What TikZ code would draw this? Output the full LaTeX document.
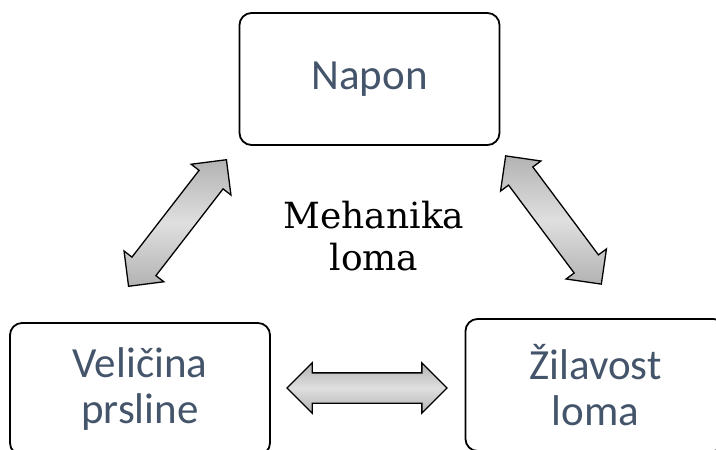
\documentclass[tikz,border=0pt]{standalone}
\usepackage{fontspec}
\newfontfamily\boxfont{Carlito}
\newfontfamily\titlefont{DejaVu Serif}
\usetikzlibrary{shapes, shapes.arrows, calc, positioning}
\definecolor{boxtext}{HTML}{44546A}
\tikzstyle{box} = [draw, line width=1.8pt, rounded corners=12pt, minimum width=260pt, minimum height=132pt, align=center, text=boxtext, font=\boxfont\fontsize{43}{46}\selectfont]
\tikzstyle{dblarrow} = [double arrow, draw, line width=1.3pt, minimum height=160pt, inner xsep=0pt, inner ysep=14.5pt, double arrow head extend=10pt, shading=axis, top color=gray!60, bottom color=gray!60, middle color=gray!25]
\tikzstyle{title} = [align=center, font=\titlefont\fontsize{36}{42}\selectfont]

\begin{document}
\begin{tikzpicture}[x=1pt,y=-1pt]
\useasboundingbox (0,0) rectangle (716,450);
\clip (0,0) rectangle (716,450);
\node [box] (napon) at (369.5,79) {Napon};
\node [box] (prslina) at (140,389) {Veličina\\prsline};
\node [box] (zilavost) at (595.5,385) {Žilavost\\loma};
\node [title] (meh) at (374,236) {Mehanika\\loma};

\coordinate (a1) at (128,287);
\coordinate (a2) at (227,159);
\coordinate (b1) at (505,155);
\coordinate (b2) at (602,285);
\coordinate (c1) at (287,388);
\coordinate (c2) at (447,388);

\path (a1) -- node[dblarrow, sloped] (left) {} (a2);
\path (b1) -- node[dblarrow, sloped] (right) {} (b2);
\path (c1) -- node[dblarrow, sloped] (bottom) {} (c2);
\end{tikzpicture}
\end{document}
